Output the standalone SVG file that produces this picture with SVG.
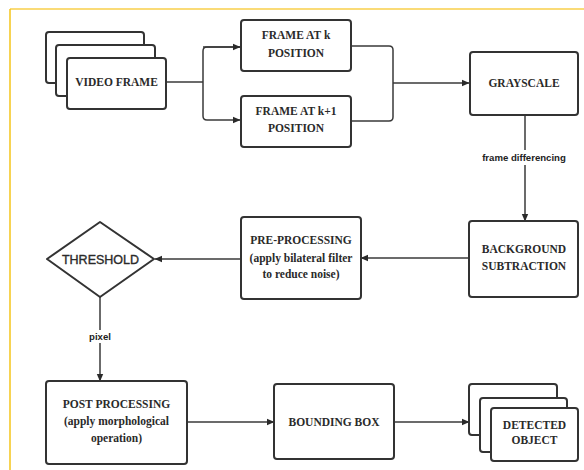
<svg xmlns="http://www.w3.org/2000/svg" width="584" height="470" viewBox="0 0 584 470">
  <style>
    .box { fill: #ffffff; stroke: #333333; stroke-width: 2; }
    .lbl { font-family: "Liberation Serif", "DejaVu Serif", serif; font-weight: bold; font-size: 11.5px; fill: #2a2a2a; text-anchor: middle; }
    .sans { font-family: "Liberation Sans", Arial, sans-serif; fill: #2a2a2a; stroke: #2a2a2a; stroke-width: 0.35; text-anchor: middle; }
    .edge { fill: none; stroke: #3a3a3a; stroke-width: 1.5; }
    .tag { font-family: "Liberation Sans", Arial, sans-serif; font-weight: bold; font-size: 9.6px; fill: #222222; text-anchor: middle; }
  </style>
  <defs>
    <marker id="arrow" markerWidth="8" markerHeight="8" refX="7" refY="4" orient="auto" markerUnits="userSpaceOnUse">
      <path d="M0,0.8 L7.5,4 L0,7.2 Z" fill="#2a2a2a"/>
    </marker>
  </defs>

  <rect width="584" height="470" fill="#ffffff"/>
  <!-- page frame -->
  <line x1="10" y1="9" x2="584" y2="9" stroke="#f8cf4a" stroke-width="1.5"/>
  <line x1="10" y1="9" x2="10" y2="470" stroke="#f5c518" stroke-width="1.5"/>

  <g id="connectors">
    <path class="edge" d="M166,82 H203"/>
    <path class="edge" d="M240,47 H207 Q203,47 203,51 V116 Q203,120 207,120 H240" marker-end="url(#arrow)"/>
    <path class="edge" d="M203,47 H240" marker-end="url(#arrow)"/>
    <path class="edge" d="M351,46 H389 Q393,46 393,50 V117 Q393,121 389,121 H351"/>
    <path class="edge" d="M393,83 H469" marker-end="url(#arrow)"/>
    <path class="edge" d="M525,115 V221" marker-end="url(#arrow)"/>
    <path class="edge" d="M469,258 H361" marker-end="url(#arrow)"/>
    <path class="edge" d="M241,259 H155" marker-end="url(#arrow)"/>
    <path class="edge" d="M100,297 V381" marker-end="url(#arrow)"/>
    <path class="edge" d="M187,422 H274" marker-end="url(#arrow)"/>
    <path class="edge" d="M394,422 H469" marker-end="url(#arrow)"/>
    <rect x="479" y="150" width="90" height="15" fill="#ffffff"/>
    <text class="tag" x="524" y="161">frame differencing</text>
    <rect x="86" y="330" width="28" height="13" fill="#ffffff"/>
    <text class="tag" x="100" y="340">pixel</text>
  </g>

  <g id="video-frame">
    <rect class="box" x="46" y="32" width="98" height="51" rx="3"/>
    <rect class="box" x="56" y="45" width="99" height="51" rx="3"/>
    <rect class="box" x="67" y="58" width="99" height="51" rx="3"/>
    <text class="lbl" x="116.5" y="86">VIDEO FRAME</text>
  </g>

  <g id="frame-k">
    <rect class="box" x="241" y="20" width="110" height="51" rx="3"/>
    <text class="lbl" x="296" y="39">FRAME AT k</text>
    <text class="lbl" x="296" y="57">POSITION</text>
  </g>

  <g id="frame-k1">
    <rect class="box" x="241" y="96" width="110" height="51" rx="3"/>
    <text class="lbl" x="296" y="115">FRAME AT k+1</text>
    <text class="lbl" x="296" y="132">POSITION</text>
  </g>

  <g id="grayscale">
    <rect class="box" x="470" y="52" width="108" height="63" rx="3"/>
    <text class="lbl" x="524" y="87">GRAYSCALE</text>
  </g>

  <g id="background-subtraction">
    <rect class="box" x="469" y="221" width="109" height="76" rx="3"/>
    <text class="lbl" x="524" y="253">BACKGROUND</text>
    <text class="lbl" x="524" y="270">SUBTRACTION</text>
  </g>

  <g id="pre-processing">
    <rect class="box" x="241" y="217" width="120" height="82" rx="3"/>
    <text class="lbl" x="301" y="244">PRE-PROCESSING</text>
    <text class="lbl" x="301" y="262">(apply bilateral filter</text>
    <text class="lbl" x="301" y="278">to reduce noise)</text>
  </g>

  <g id="threshold">
    <path class="box" d="M100,222 L154,259 L100,297 L47,259 Z" stroke-linejoin="round"/>
    <text class="sans" x="100.5" y="263.5" font-size="12.5">THRESHOLD</text>
  </g>

  <g id="post-processing">
    <rect class="box" x="46" y="381" width="141" height="83" rx="3"/>
    <text class="lbl" x="116.5" y="408">POST PROCESSING</text>
    <text class="lbl" x="116.5" y="425">(apply morphological</text>
    <text class="lbl" x="116.5" y="442">operation)</text>
  </g>

  <g id="bounding-box">
    <rect class="box" x="274" y="384" width="120" height="75" rx="3"/>
    <text class="lbl" x="334" y="426">BOUNDING BOX</text>
  </g>

  <g id="detected-object">
    <rect class="box" x="469" y="384" width="88" height="51" rx="3"/>
    <rect class="box" x="480" y="398" width="87" height="54" rx="3"/>
    <rect class="box" x="491" y="408" width="87" height="53" rx="3"/>
    <text class="lbl" x="534.5" y="429">DETECTED</text>
    <text class="lbl" x="534.5" y="444">OBJECT</text>
  </g>
</svg>
